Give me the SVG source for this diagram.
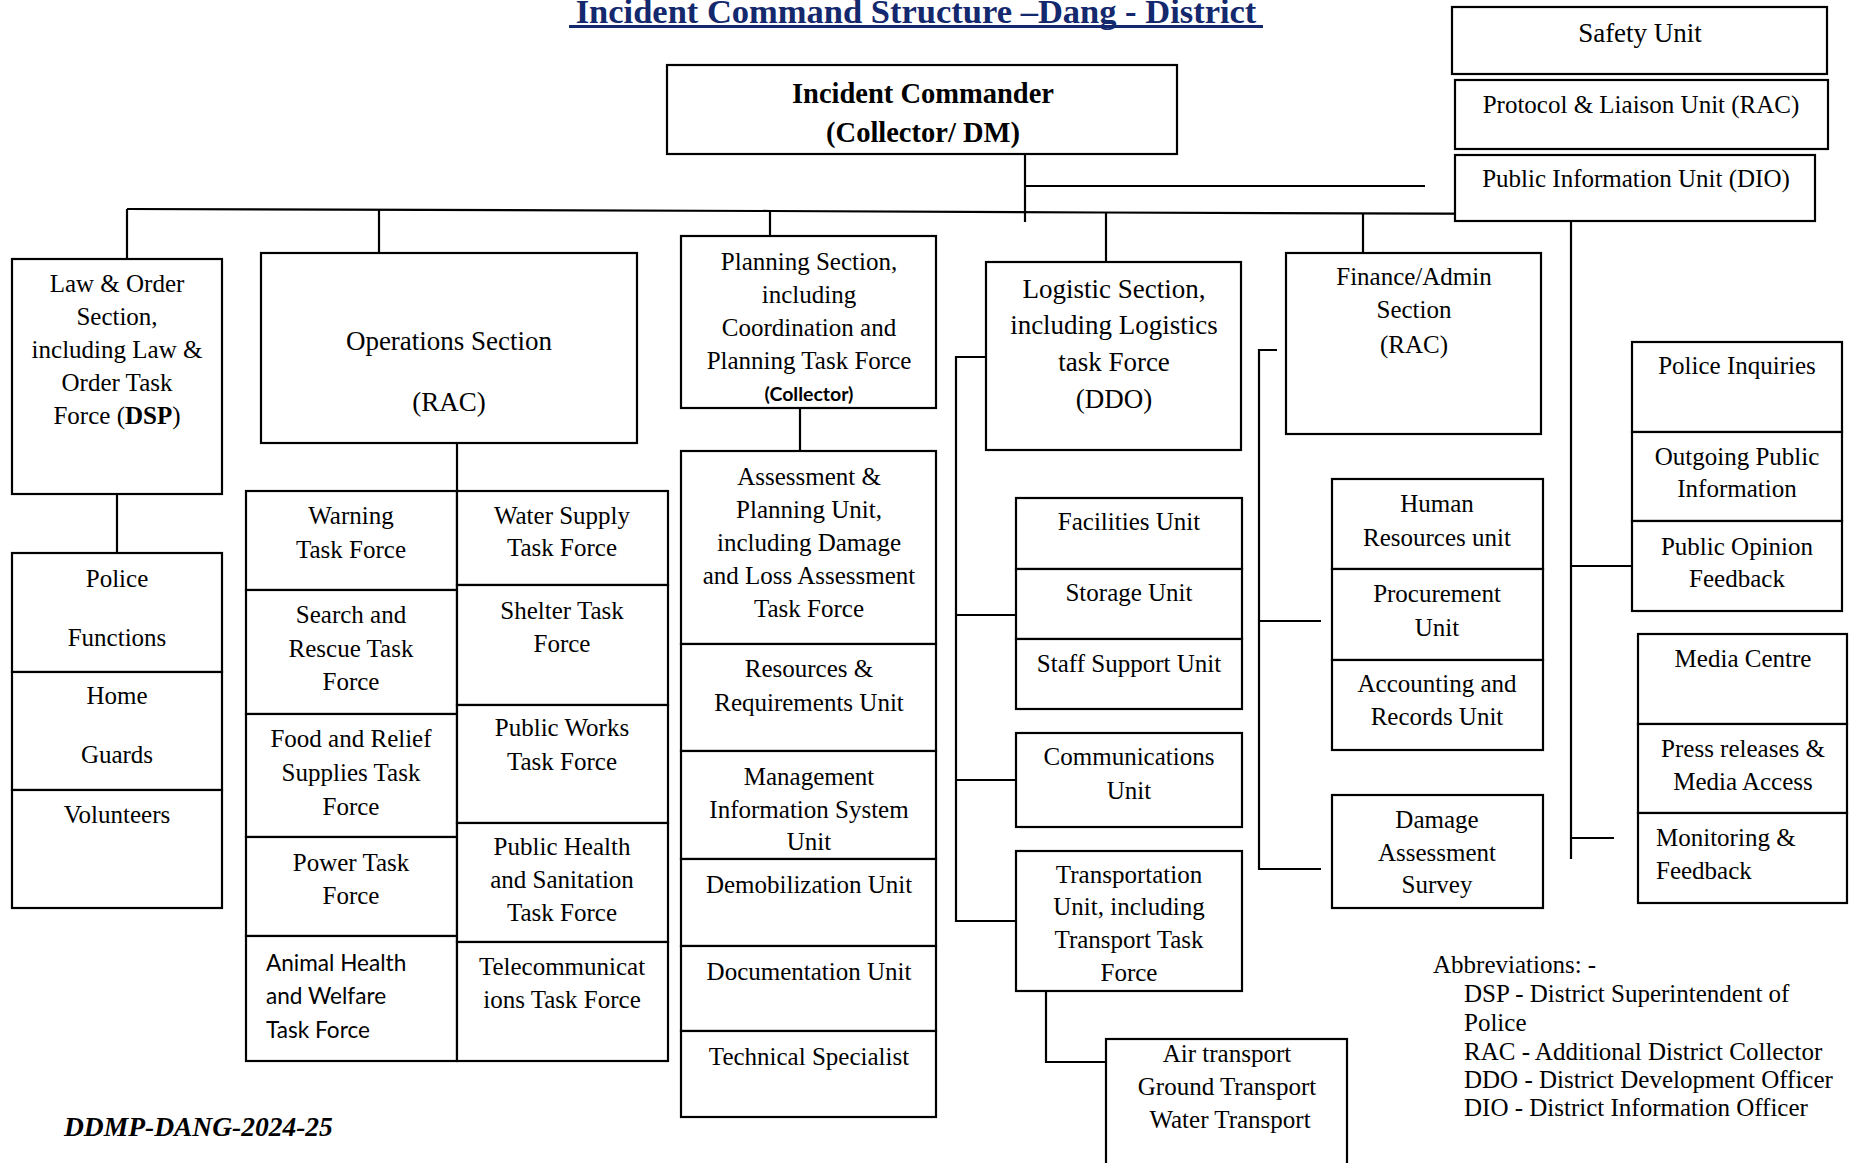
<svg xmlns="http://www.w3.org/2000/svg" width="1854" height="1163" viewBox="0 0 1854 1163">
  <style>
    .box { fill: #ffffff; stroke: #000000; stroke-width: 2.2; }
    .t { font-family: "Liberation Serif", "Times New Roman", serif; font-size: 25px; fill: #000000; text-anchor: middle; }
    .big { font-size: 27px; }
    .bold { font-weight: bold; }
    .sans { font-family: Lato, "Liberation Sans", sans-serif; font-size: 22.6px; text-anchor: start; }
    .left { text-anchor: start; }
    .conn line, .conn path, .conn polyline { stroke: #000000; stroke-width: 2.2; fill: none; }
  </style>
  <rect width="1854" height="1163" fill="#ffffff"/>

  <!-- heading -->
  <g id="title">
    <text x="916" y="23" class="t bold" style="font-size:34.5px;fill:#14286e">Incident Command Structure –Dang - District</text>
    <line x1="569" y1="26.5" x2="1263" y2="26.5" stroke="#14286e" stroke-width="3"/>
  </g>

  <!-- connectors -->
  <g id="connectors" class="conn">
    <line x1="1025" y1="147" x2="1025" y2="222"/>
    <line x1="1025" y1="186" x2="1425" y2="186"/>
    <polyline points="127,209 771,211 1100,212.5 1568,214"/>
    <line x1="127" y1="209" x2="127" y2="259"/>
    <line x1="379" y1="209.5" x2="379" y2="253"/>
    <line x1="770" y1="211" x2="770" y2="236"/>
    <line x1="1106" y1="212.5" x2="1106" y2="262"/>
    <line x1="1363" y1="213.5" x2="1363" y2="260"/>
    <line x1="1571" y1="215" x2="1571" y2="859"/>
    <line x1="1571" y1="566" x2="1634" y2="566"/>
    <line x1="1571" y1="838" x2="1614" y2="838"/>
    <line x1="117" y1="494" x2="117" y2="553"/>
    <line x1="457" y1="443" x2="457" y2="491"/>
    <line x1="800" y1="408" x2="800" y2="451"/>
    <path d="M986,357 H956 V921 H1016"/>
    <line x1="956" y1="615" x2="1016" y2="615"/>
    <line x1="956" y1="780" x2="1016" y2="780"/>
    <path d="M1046,991 V1062 H1106"/>
    <path d="M1277,350 H1259 V870"/>
    <line x1="1259" y1="621" x2="1321" y2="621"/>
    <line x1="1259" y1="869" x2="1321" y2="869"/>
  </g>

  <!-- command staff -->
  <g id="incident-commander">
    <rect class="box" x="667" y="65" width="510" height="89"/>
    <text class="t bold" x="923" y="103" style="font-size:28.5px">Incident Commander</text>
    <text class="t bold" x="923" y="142" style="font-size:28.5px">(Collector/ DM)</text>
  </g>
  <g id="safety-unit">
    <rect class="box" x="1452" y="7" width="375" height="67"/>
    <text class="t big" x="1640" y="42">Safety Unit</text>
  </g>
  <g id="protocol-liaison-unit">
    <rect class="box" x="1455" y="80" width="373" height="69"/>
    <text class="t" x="1641" y="113">Protocol &amp; Liaison Unit (RAC)</text>
  </g>
  <g id="public-information-unit">
    <rect class="box" x="1455" y="155" width="360" height="66"/>
    <text class="t" x="1636" y="187">Public Information Unit (DIO)</text>
  </g>

  <!-- sections -->
  <g id="law-order-section">
    <rect class="box" x="12" y="259" width="210" height="235"/>
    <text class="t" x="117" y="292">Law &amp; Order</text>
    <text class="t" x="117" y="325">Section,</text>
    <text class="t" x="117" y="358">including Law &amp;</text>
    <text class="t" x="117" y="391">Order Task</text>
    <text class="t" x="117" y="424">Force (<tspan class="bold">DSP</tspan>)</text>
  </g>
  <g id="operations-section">
    <rect class="box" x="261" y="253" width="376" height="190"/>
    <text class="t big" x="449" y="350">Operations Section</text>
    <text class="t big" x="449" y="411">(RAC)</text>
  </g>
  <g id="planning-section">
    <rect class="box" x="681" y="236" width="255" height="172"/>
    <text class="t" x="809" y="270">Planning Section,</text>
    <text class="t" x="809" y="303">including</text>
    <text class="t" x="809" y="336">Coordination and</text>
    <text class="t" x="809" y="369">Planning Task Force</text>
    <text class="t bold" x="809" y="401" style="font-family:Lato,'Liberation Sans',sans-serif;font-size:19.5px">(Collector)</text>
  </g>
  <g id="logistic-section">
    <rect class="box" x="986" y="262" width="255" height="188"/>
    <text class="t big" x="1114" y="298">Logistic Section,</text>
    <text class="t big" x="1114" y="334">including Logistics</text>
    <text class="t big" x="1114" y="371">task Force</text>
    <text class="t big" x="1114" y="408">(DDO)</text>
  </g>
  <g id="finance-admin-section">
    <rect class="box" x="1286" y="253" width="255" height="181"/>
    <text class="t" x="1414" y="285">Finance/Admin</text>
    <text class="t" x="1414" y="318">Section</text>
    <text class="t" x="1414" y="353">(RAC)</text>
  </g>

  <!-- law and order units -->
  <g id="police-functions">
    <rect class="box" x="12" y="553" width="210" height="119"/>
    <text class="t" x="117" y="587">Police</text>
    <text class="t" x="117" y="646">Functions</text>
  </g>
  <g id="home-guards">
    <rect class="box" x="12" y="672" width="210" height="118"/>
    <text class="t" x="117" y="704">Home</text>
    <text class="t" x="117" y="763">Guards</text>
  </g>
  <g id="volunteers">
    <rect class="box" x="12" y="790" width="210" height="118"/>
    <text class="t" x="117" y="823">Volunteers</text>
  </g>

  <!-- operations task forces -->
  <g id="warning-tf">
    <rect class="box" x="246" y="491" width="211" height="99"/>
    <text class="t" x="351" y="524">Warning</text>
    <text class="t" x="351" y="558">Task Force</text>
  </g>
  <g id="search-rescue-tf">
    <rect class="box" x="246" y="590" width="211" height="124"/>
    <text class="t" x="351" y="623">Search and</text>
    <text class="t" x="351" y="657">Rescue Task</text>
    <text class="t" x="351" y="690">Force</text>
  </g>
  <g id="food-relief-tf">
    <rect class="box" x="246" y="714" width="211" height="123"/>
    <text class="t" x="351" y="747">Food and Relief</text>
    <text class="t" x="351" y="781">Supplies Task</text>
    <text class="t" x="351" y="815">Force</text>
  </g>
  <g id="power-tf">
    <rect class="box" x="246" y="837" width="211" height="99"/>
    <text class="t" x="351" y="871">Power Task</text>
    <text class="t" x="351" y="904">Force</text>
  </g>
  <g id="animal-health-tf">
    <rect class="box" x="246" y="936" width="211" height="125"/>
    <text class="sans" x="266" y="971">Animal Health</text>
    <text class="sans" x="266" y="1004">and Welfare</text>
    <text class="sans" x="266" y="1038">Task Force</text>
  </g>
  <g id="water-supply-tf">
    <rect class="box" x="457" y="491" width="211" height="94"/>
    <text class="t" x="562" y="524">Water Supply</text>
    <text class="t" x="562" y="556">Task Force</text>
  </g>
  <g id="shelter-tf">
    <rect class="box" x="457" y="585" width="211" height="120"/>
    <text class="t" x="562" y="619">Shelter Task</text>
    <text class="t" x="562" y="652">Force</text>
  </g>
  <g id="public-works-tf">
    <rect class="box" x="457" y="705" width="211" height="118"/>
    <text class="t" x="562" y="736">Public Works</text>
    <text class="t" x="562" y="770">Task Force</text>
  </g>
  <g id="public-health-tf">
    <rect class="box" x="457" y="823" width="211" height="119"/>
    <text class="t" x="562" y="855">Public Health</text>
    <text class="t" x="562" y="888">and Sanitation</text>
    <text class="t" x="562" y="921">Task Force</text>
  </g>
  <g id="telecom-tf">
    <rect class="box" x="457" y="942" width="211" height="119"/>
    <text class="t" x="562" y="975">Telecommunicat</text>
    <text class="t" x="562" y="1008">ions Task Force</text>
  </g>

  <!-- planning units -->
  <g id="assessment-planning-unit">
    <rect class="box" x="681" y="451" width="255" height="193"/>
    <text class="t" x="809" y="485">Assessment &amp;</text>
    <text class="t" x="809" y="518">Planning Unit,</text>
    <text class="t" x="809" y="551">including Damage</text>
    <text class="t" x="809" y="584">and Loss Assessment</text>
    <text class="t" x="809" y="617">Task Force</text>
  </g>
  <g id="resources-requirements-unit">
    <rect class="box" x="681" y="644" width="255" height="107"/>
    <text class="t" x="809" y="677">Resources &amp;</text>
    <text class="t" x="809" y="711">Requirements Unit</text>
  </g>
  <g id="mis-unit">
    <rect class="box" x="681" y="751" width="255" height="108"/>
    <text class="t" x="809" y="785">Management</text>
    <text class="t" x="809" y="818">Information System</text>
    <text class="t" x="809" y="850">Unit</text>
  </g>
  <g id="demobilization-unit">
    <rect class="box" x="681" y="859" width="255" height="87"/>
    <text class="t" x="809" y="893">Demobilization Unit</text>
  </g>
  <g id="documentation-unit">
    <rect class="box" x="681" y="946" width="255" height="85"/>
    <text class="t" x="809" y="980">Documentation Unit</text>
  </g>
  <g id="technical-specialist">
    <rect class="box" x="681" y="1031" width="255" height="86"/>
    <text class="t" x="809" y="1065">Technical Specialist</text>
  </g>

  <!-- logistic units -->
  <g id="facilities-unit">
    <rect class="box" x="1016" y="498" width="226" height="71"/>
    <text class="t" x="1129" y="530">Facilities Unit</text>
  </g>
  <g id="storage-unit">
    <rect class="box" x="1016" y="569" width="226" height="70"/>
    <text class="t" x="1129" y="601">Storage Unit</text>
  </g>
  <g id="staff-support-unit">
    <rect class="box" x="1016" y="639" width="226" height="70"/>
    <text class="t" x="1129" y="672">Staff Support Unit</text>
  </g>
  <g id="communications-unit">
    <rect class="box" x="1016" y="733" width="226" height="94"/>
    <text class="t" x="1129" y="765">Communications</text>
    <text class="t" x="1129" y="799">Unit</text>
  </g>
  <g id="transportation-unit">
    <rect class="box" x="1016" y="851" width="226" height="140"/>
    <text class="t" x="1129" y="883">Transportation</text>
    <text class="t" x="1129" y="915">Unit, including</text>
    <text class="t" x="1129" y="948">Transport Task</text>
    <text class="t" x="1129" y="981">Force</text>
  </g>
  <g id="transport-modes">
    <rect class="box" x="1106" y="1039" width="241" height="140"/>
    <text class="t" x="1227" y="1062">Air transport</text>
    <text class="t" x="1227" y="1095">Ground Transport</text>
    <text class="t" x="1230" y="1128">Water Transport</text>
  </g>

  <!-- finance units -->
  <g id="human-resources-unit">
    <rect class="box" x="1332" y="479" width="211" height="90"/>
    <text class="t" x="1437" y="512">Human</text>
    <text class="t" x="1437" y="546">Resources unit</text>
  </g>
  <g id="procurement-unit">
    <rect class="box" x="1332" y="569" width="211" height="91"/>
    <text class="t" x="1437" y="602">Procurement</text>
    <text class="t" x="1437" y="636">Unit</text>
  </g>
  <g id="accounting-records-unit">
    <rect class="box" x="1332" y="660" width="211" height="90"/>
    <text class="t" x="1437" y="692">Accounting and</text>
    <text class="t" x="1437" y="725">Records Unit</text>
  </g>
  <g id="damage-assessment-survey">
    <rect class="box" x="1332" y="795" width="211" height="113"/>
    <text class="t" x="1437" y="828">Damage</text>
    <text class="t" x="1437" y="861">Assessment</text>
    <text class="t" x="1437" y="893">Survey</text>
  </g>

  <!-- public information units -->
  <g id="police-inquiries">
    <rect class="box" x="1632" y="342" width="210" height="90"/>
    <text class="t" x="1737" y="374">Police Inquiries</text>
  </g>
  <g id="outgoing-public-information">
    <rect class="box" x="1632" y="432" width="210" height="89"/>
    <text class="t" x="1737" y="465">Outgoing Public</text>
    <text class="t" x="1737" y="497">Information</text>
  </g>
  <g id="public-opinion-feedback">
    <rect class="box" x="1632" y="521" width="210" height="90"/>
    <text class="t" x="1737" y="555">Public Opinion</text>
    <text class="t" x="1737" y="587">Feedback</text>
  </g>
  <g id="media-centre">
    <rect class="box" x="1638" y="634" width="209" height="90"/>
    <text class="t" x="1743" y="667">Media Centre</text>
  </g>
  <g id="press-releases">
    <rect class="box" x="1638" y="724" width="209" height="89"/>
    <text class="t" x="1743" y="757">Press releases &amp;</text>
    <text class="t" x="1743" y="790">Media Access</text>
  </g>
  <g id="monitoring-feedback">
    <rect class="box" x="1638" y="813" width="209" height="90"/>
    <text class="t left" x="1656" y="846">Monitoring &amp;</text>
    <text class="t left" x="1656" y="879">Feedback</text>
  </g>

  <!-- legend -->
  <g id="abbreviations">
    <text class="t left" x="1433" y="973">Abbreviations: -</text>
    <text class="t left" x="1464" y="1002">DSP - District Superintendent of</text>
    <text class="t left" x="1464" y="1031">Police</text>
    <text class="t left" x="1464" y="1060">RAC - Additional District Collector</text>
    <text class="t left" x="1464" y="1088">DDO - District Development Officer</text>
    <text class="t left" x="1464" y="1116">DIO - District Information Officer</text>
  </g>

  <g id="document-code">
    <text class="t left bold" x="64" y="1136" style="font-style:italic;font-size:27.5px">DDMP-DANG-2024-25</text>
  </g>
</svg>
